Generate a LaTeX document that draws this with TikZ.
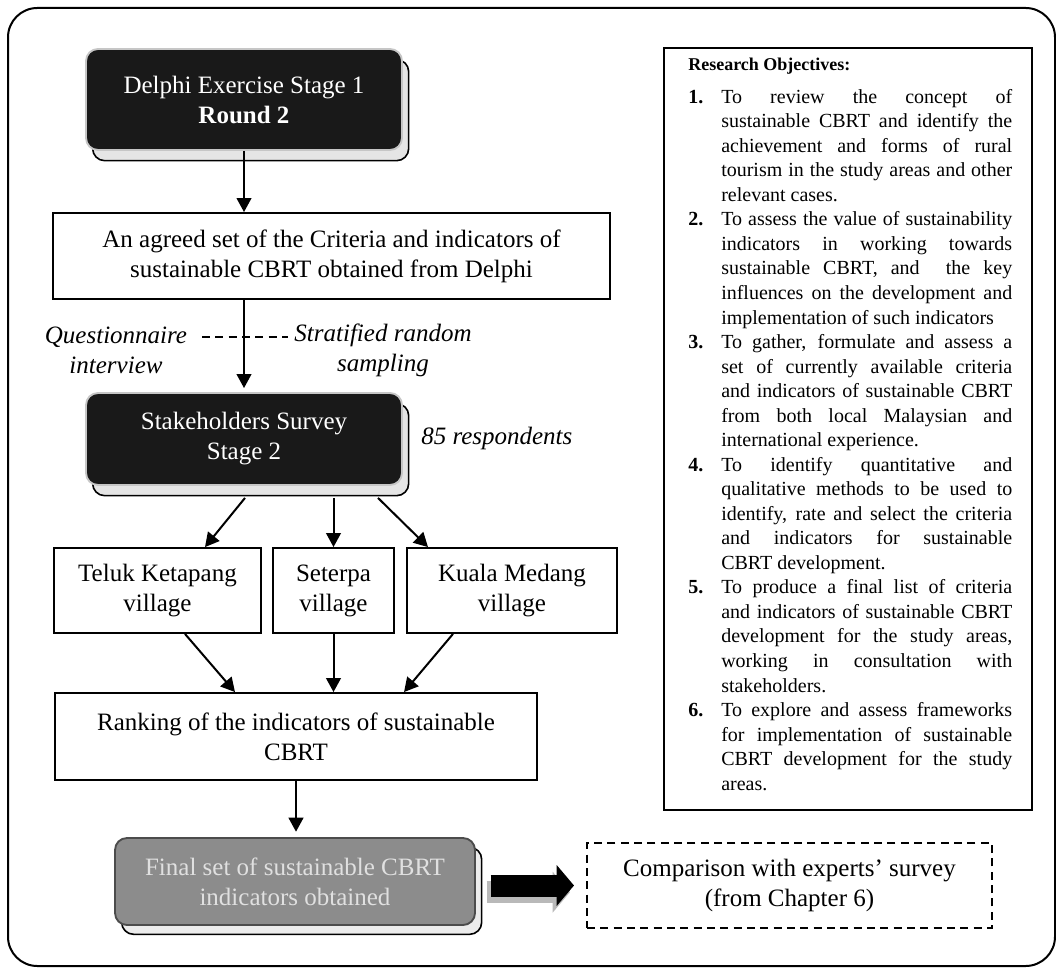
\documentclass[tikz,border=0pt]{standalone}
\usepackage{fontspec}
\setmainfont{Liberation Serif}
\usetikzlibrary{arrows.meta,calc,shadows}

\newcommand{\boxtext}{\fontsize{18.75pt}{22.5pt}\selectfont}
\newcommand{\objtext}{\fontsize{15pt}{18.4pt}\selectfont}
\newlength{\objw}\setlength{\objw}{218.25pt}
\newlength{\objind}\setlength{\objind}{24.75pt}
\newcommand{\objnum}[1]{\makebox[\objind][l]{\textbf{#1}}}
\newcommand{\objjust}[1]{\makebox[\objw][s]{#1}}

\tikzset{
  box/.style={draw, line width=1.4pt, align=center, font=\boxtext, inner sep=0pt},
  darkbox/.style={box, rounded corners=9pt, fill=black!90, draw=gray!45, text=white,
    drop shadow={shadow xshift=5pt, shadow yshift=-8pt, fill=gray!20, draw=black, line width=1.2pt, opacity=1}},
  greybox/.style={box, rounded corners=9pt, fill=black!45, draw=black!70, text=white!88!black,
    drop shadow={shadow xshift=5pt, shadow yshift=-7pt, fill=gray!15, draw=black, line width=1.2pt, opacity=1}},
  note/.style={align=center, font=\boxtext\itshape, inner sep=0pt},
  arr/.style={line width=1.5pt, -{Triangle[length=10.5pt,width=11pt]}},
  bigarr/.style={line width=16.5pt, -{Triangle[length=13pt,width=30pt]}, shorten <=11pt, shorten >=9pt},
}

\begin{document}
\begin{tikzpicture}[x=0.75pt, y=-0.75pt]
    \useasboundingbox (0,0) rectangle (1056,969);

    % frame
    \draw[line width=1.5pt, rounded corners=22pt] (8,8) rectangle (1055,966);

    % left column
    \node[darkbox, minimum width=237pt, minimum height=75.75pt] (del) at (244,99.5)
        {Delphi Exercise Stage 1\\\textbf{Round 2}};
    \node[box, minimum width=417.75pt, minimum height=64.5pt] (agr) at (331.5,256)
        {An agreed set of the Criteria and indicators of\\sustainable CBRT obtained from Delphi};

    \node[note] (qst) at (116,350.5) {Questionnaire\\interview};
    \node[note] (smp) at (383,350.5) {Stratified random\\sampling};
    \coordinate (dl) at (202,337);
    \coordinate (dr) at (288,337);
    \draw[line width=1.4pt, dash pattern=on 6pt off 4pt] (dl) -- (dr);

    \node[darkbox, minimum width=237pt, minimum height=69pt] (stk) at (244,439)
        {Stakeholders Survey\\Stage 2};
    \node[note, anchor=west] (resp) at (421,438) {85 respondents};

    \node[box, minimum width=155.25pt, minimum height=63.75pt] (tel) at (157.5,590.5) {Teluk Ketapang\\village};
    \node[box, minimum width=90.75pt, minimum height=63.75pt] (sep) at (333.5,590.5) {Seterpa\\village};
    \node[box, minimum width=157.5pt, minimum height=63.75pt] (kua) at (512,590.5) {Kuala Medang\\village};

    \node[box, minimum width=361.5pt, minimum height=65.25pt] (rnk) at (296,736.5)
        {Ranking of the indicators of sustainable\\CBRT};
    \node[greybox, minimum width=270pt, minimum height=65.25pt] (fin) at (295,881.5)
        {Final set of sustainable CBRT\\indicators obtained};

    \node[box, dash pattern=on 6pt off 4pt, line width=1.5pt, minimum width=303.75pt, minimum height=63.75pt] (cmp) at (789.5,885.5)
        {Comparison with experts’ survey\\(from Chapter 6)};

    % arrows
    \draw[arr] (del.south) -- (del.south |- agr.north);
    \draw[arr, shorten >=3pt] (stk.north |- agr.south) -- (stk.north);
    \draw[arr] ($(stk.south)+(1,12)$) -- ($(tel.north)+(47.5,0)$);
    \draw[arr] ($(stk.south)+(89.5,12)$) -- (sep.north);
    \draw[arr] ($(stk.south)+(134,12)$) -- ($(kua.north)+(-84,0)$);
    \draw[arr] ($(tel.south)+(27.5,0)$) -- ($(rnk.north)+(-61,0)$);
    \draw[arr] (sep.south) -- (sep.south |- rnk.north);
    \draw[arr] ($(kua.south)+(-59,0)$) -- ($(rnk.north)+(108,0)$);
    \draw[arr, shorten >=4pt] (rnk.south) -- (rnk.south |- fin.north);

    % block arrow to the comparison box
    \draw[bigarr, gray!55, transform canvas={xshift=-3pt,yshift=-5pt}] (fin.east |- cmp.west) -- (cmp.west);
    \draw[bigarr, black] (fin.east |- cmp.west) -- (cmp.west);

    % objectives
    \node[draw, line width=1.5pt, minimum width=276pt, minimum height=571.5pt, inner sep=0pt] (obj) at (848,429) {};
    \node[anchor=north west, align=left, font=\objtext, inner sep=0pt] (objtxt) at (688,57.5) {%
        {\fontsize{13.5pt}{16pt}\selectfont\bfseries Research Objectives:}\\[6.35pt]
        \objnum{1.}\objjust{To review the concept of}\\
        \objnum{}\objjust{sustainable CBRT and identify the}\\
        \objnum{}\objjust{achievement and forms of rural}\\
        \objnum{}\objjust{tourism in the study areas and other}\\
        \objnum{}relevant cases.\\
        \objnum{2.}\objjust{To assess the value of sustainability}\\
        \objnum{}\objjust{indicators in working towards}\\
        \objnum{}\objjust{sustainable CBRT, and\ \ the key}\\
        \objnum{}\objjust{influences on the development and}\\
        \objnum{}implementation of such indicators\\
        \objnum{3.}\objjust{To gather, formulate and assess a}\\
        \objnum{}\objjust{set of currently available criteria}\\
        \objnum{}\objjust{and indicators of sustainable CBRT}\\
        \objnum{}\objjust{from both local Malaysian and}\\
        \objnum{}international experience.\\
        \objnum{4.}\objjust{To identify quantitative and}\\
        \objnum{}\objjust{qualitative methods to be used to}\\
        \objnum{}\objjust{identify, rate and select the criteria}\\
        \objnum{}\objjust{and indicators for sustainable}\\
        \objnum{}CBRT development.\\
        \objnum{5.}\objjust{To produce a final list of criteria}\\
        \objnum{}\objjust{and indicators of sustainable CBRT}\\
        \objnum{}\objjust{development for the study areas,}\\
        \objnum{}\objjust{working in consultation with}\\
        \objnum{}stakeholders.\\
        \objnum{6.}\objjust{To explore and assess frameworks}\\
        \objnum{}\objjust{for implementation of sustainable}\\
        \objnum{}\objjust{CBRT development for the study}\\
        \objnum{}areas.};
\end{tikzpicture}
\end{document}
